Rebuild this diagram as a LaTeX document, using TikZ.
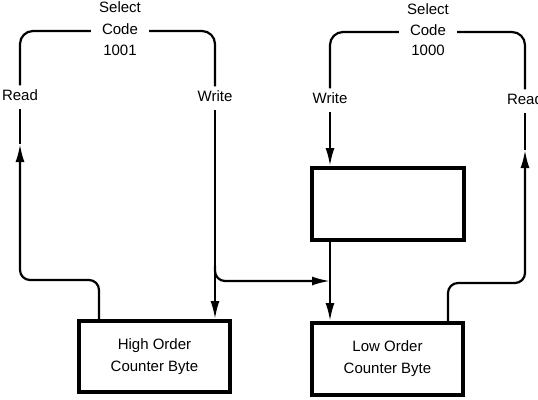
\documentclass[tikz,border=0pt]{standalone}
\usepackage{fontspec}
\setmainfont{Liberation Sans}
\usetikzlibrary{arrows.meta,positioning}
\begin{document}
\begin{tikzpicture}[x=1pt,y=-1pt,
 wire/.style={line width=2.2pt},
 arr/.style={-{Latex[length=18pt,width=9pt]}},
 lbl/.style={font=\fontsize{15}{21}\selectfont, text height=10pt, text depth=3pt, inner ysep=5pt, inner xsep=3pt},
 gap/.style={lbl, inner xsep=11pt},
 reg/.style={draw, line width=4pt, font=\fontsize{15}{22}\selectfont, align=center}]
\useasboundingbox (0,0) rectangle (538,399);
% boxes
\node[reg, minimum width=151pt, minimum height=71pt] (hi) at (154.5,356.5) {High Order\\Counter Byte};
\node[reg, minimum width=152pt, minimum height=72pt] (mid) at (388,204) {};
\node[reg, minimum width=151pt, minimum height=72pt] (lo) at (387.5,359) {Low Order\\Counter Byte};
% labels
\node[gap] (c1) at (120,31) {Code};
\node[lbl] (s1) at (120,9) {Select};
\node[lbl] (n1) at (120,52) {1001};
\node[lbl] (r1) at (20,97) {Read};
\node[lbl] (w1) at (215,98) {Write};
\node[gap] (c2) at (428,32) {Code};
\node[lbl] (s2) at (428,11) {Select};
\node[lbl] (n2) at (428,52) {1000};
\node[lbl] (w2) at (330,100) {Write};
\node[lbl] (r2) at (525,101) {Read};
% coordinates
\coordinate (aL) at (20,144);
\coordinate (aR) at (525,150);
\coordinate (jn) at (330,281);
% left loop
\draw[wire, rounded corners=13pt] (r1.north) |- (c1.west);
\draw[wire, rounded corners=13pt] (c1.east) -| (w1.north);
\draw[wire, arr] (w1.south) -- (w1.south |- hi.north);
\draw[wire, rounded corners=10pt, arr] ([xshift=22pt]hi.north west) |- (20,280) -- (aL);
\draw[wire] (aL) -- (r1.south);
% branch
\draw[wire, rounded corners=10pt, arr] (215,266) |- (jn);
\draw[wire, arr] (mid.south -| jn) -- (lo.north -| jn);
% right loop
\draw[wire, arr] (w2.south) -- (w2.south |- mid.north);
\draw[wire, rounded corners=13pt] (w2.north) |- (c2.west);
\draw[wire, rounded corners=13pt] (c2.east) -| (r2.north);
\draw[wire, rounded corners=10pt, arr] ([xshift=-17pt]lo.north east) |- (525,283) -- (aR);
\draw[wire] (aR) -- (r2.south);
\end{tikzpicture}
\end{document}
